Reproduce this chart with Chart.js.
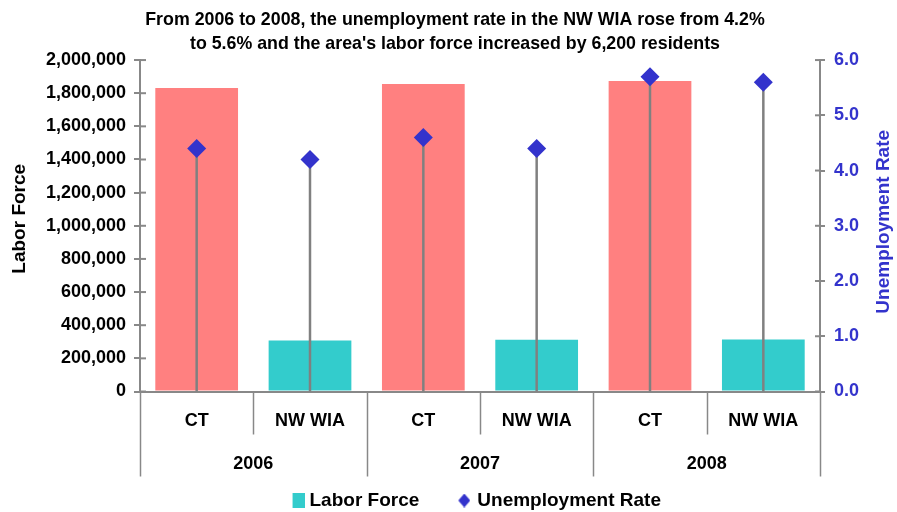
<!DOCTYPE html>
<html>
<head>
<meta charset="utf-8">
<script src="https://cdn.jsdelivr.net/npm/chart.js@4"></script>
<style>
  html, body { margin: 0; padding: 0; background: #fff; }
  #wrap { width: 897px; height: 512px; }
</style>
</head>
<body>
<div id="wrap"><canvas id="c" width="897" height="512"></canvas></div>
<script>
const areas = ['CT', 'NW WIA', 'CT', 'NW WIA', 'CT', 'NW WIA'];
const years = ['2006', '2007', '2008'];
const laborForce = [1831000, 308000, 1855000, 312000, 1873000, 314200];
const unemploymentRate = [4.4, 4.2, 4.6, 4.4, 5.7, 5.6];
const leftTicks = [0, 200000, 400000, 600000, 800000, 1000000, 1200000, 1400000, 1600000, 1800000, 2000000];
const rightTicks = [0, 1, 2, 3, 4, 5, 6];

const CT_COLOR = '#FF8080';
const WIA_COLOR = '#33CCCC';
const RATE_COLOR = '#3333CC';
const AXIS_COLOR = '#888888';
const FONT = 'Liberation Sans, Arial, Helvetica, sans-serif';

const barColors = areas.map(a => a === 'CT' ? CT_COLOR : WIA_COLOR);

// legend symbols: drawn at the right-hand side of a wider transparent image
function makeSquare() {
  const c = document.createElement('canvas');
  c.width = 51; c.height = 15;
  const g = c.getContext('2d');
  g.fillStyle = WIA_COLOR; g.fillRect(39, 0, 12, 15);
  return c;
}
function makeDiamond() {
  const c = document.createElement('canvas');
  c.width = 47; c.height = 14;
  const g = c.getContext('2d');
  g.fillStyle = RATE_COLOR;
  g.beginPath(); g.moveTo(41, 0); g.lineTo(47, 7); g.lineTo(41, 14); g.lineTo(35, 7); g.closePath(); g.fill();
  return c;
}
const squareImg = makeSquare();
const diamondImg = makeDiamond();

const shiftBlocks = {
  id: 'shiftBlocks',
  afterLayout(chart) {
    chart.legend.left += 22;
    chart.legend.top += 8;
    chart.titleBlock.left += 13;
  }
};

const dropLines = {
  id: 'dropLines',
  beforeDatasetDraw(chart, args) {
    if (args.index !== 1) return;
    const meta = chart.getDatasetMeta(1);
    const bottom = chart.chartArea.bottom;
    const ctx = chart.ctx;
    ctx.save();
    ctx.strokeStyle = '#808080';
    ctx.lineWidth = 2.5;
    meta.data.forEach(pt => {
      ctx.beginPath();
      ctx.moveTo(pt.x, pt.y);
      ctx.lineTo(pt.x, bottom);
      ctx.stroke();
    });
    ctx.restore();
  }
};

const separators = {
  id: 'separators',
  afterDraw(chart) {
    const xs = chart.scales.x;
    const x2 = chart.scales.x2;
    const ys = chart.scales.y;
    const y1 = chart.scales.y1;
    const ctx = chart.ctx;
    const n = areas.length;
    const w = (xs.right - xs.left) / n;
    ctx.save();
    ctx.strokeStyle = AXIS_COLOR;
    ctx.lineWidth = 1.5;
    for (let i = 0; i <= n; i++) {
      const xp = Math.round(xs.left + i * w) + 0.5;
      const yEnd = (i % 2 === 0) ? x2.bottom : xs.bottom;
      ctx.beginPath();
      ctx.moveTo(xp, xs.top);
      ctx.lineTo(xp, yEnd);
      ctx.stroke();
    }
    // inner halves of the crossing tick marks
    ctx.lineWidth = 2;
    ys.ticks.forEach(t => {
      const yp = ys.getPixelForValue(t.value);
      ctx.beginPath(); ctx.moveTo(ys.right, yp); ctx.lineTo(ys.right + 6, yp); ctx.stroke();
    });
    y1.ticks.forEach(t => {
      const yp = y1.getPixelForValue(t.value);
      ctx.beginPath(); ctx.moveTo(y1.left - 5, yp); ctx.lineTo(y1.left, yp); ctx.stroke();
    });
    const ca = chart.chartArea;
    const midY = (ca.top + ca.bottom) / 2;
    ctx.font = 'bold 19px ' + FONT;
    ctx.textAlign = 'center';
    ctx.textBaseline = 'middle';
    // left axis title
    ctx.save();
    ctx.translate(20, midY - 7);
    ctx.rotate(-Math.PI / 2);
    ctx.fillStyle = '#000';
    ctx.fillText('Labor Force', 0, 0);
    ctx.restore();
    // right axis title (reads bottom to top)
    ctx.save();
    ctx.translate(chart.width - 13, midY - 4);
    ctx.rotate(-Math.PI / 2);
    ctx.fillStyle = RATE_COLOR;
    ctx.fillText('Unemployment Rate', 0, 0);
    ctx.restore();
    ctx.restore();
  }
};

new Chart(document.getElementById('c'), {
  data: {
    labels: areas,
    datasets: [
      {
        type: 'bar',
        label: 'Labor Force',
        data: laborForce,
        backgroundColor: barColors,
        borderWidth: 0,
        categoryPercentage: 1.0,
        barPercentage: 0.73,
        xAxisID: 'x',
        yAxisID: 'y',
        order: 2
      },
      {
        type: 'line',
        label: 'Unemployment Rate',
        data: unemploymentRate,
        showLine: false,
        pointStyle: 'rectRot',
        pointRadius: 9.5,
        pointHoverRadius: 9.5,
        pointBackgroundColor: RATE_COLOR,
        pointBorderWidth: 0,
        borderColor: RATE_COLOR,
        xAxisID: 'x',
        yAxisID: 'y1',
        order: 1
      }
    ]
  },
  options: {
    responsive: false,
    animation: false,
    events: [],
    layout: { padding: 0 },
    plugins: {
      title: {
        display: true,
        text: ['From 2006 to 2008, the unemployment rate in the NW WIA rose from 4.2%',
               "to 5.6% and the area's labor force increased by 6,200 residents"],
        color: '#000',
        font: { family: FONT, size: 17.8, weight: 'bold', lineHeight: 1.35 },
        padding: { top: 8, bottom: 4 }
      },
      legend: {
        position: 'bottom',
        labels: {
          usePointStyle: true,
          pointStyleWidth: 42,
          color: '#000',
          font: { family: FONT, size: 19, weight: 'bold' },
          padding: 6.5,
          generateLabels() {
            return [
              { text: 'Labor Force', pointStyle: squareImg, fillStyle: WIA_COLOR, strokeStyle: WIA_COLOR, lineWidth: 0, datasetIndex: 0, hidden: false },
              { text: 'Unemployment Rate', pointStyle: diamondImg, fillStyle: RATE_COLOR, strokeStyle: RATE_COLOR, lineWidth: 0, datasetIndex: 1, hidden: false }
            ];
          }
        }
      },
      tooltip: { enabled: false }
    },
    scales: {
      x: {
        type: 'category',
        position: 'bottom',
        offset: true,
        grid: { display: false, drawTicks: false },
        border: { display: true, color: AXIS_COLOR, width: 2 },
        ticks: { color: '#000', font: { family: FONT, size: 18, weight: 'bold' }, padding: 19, maxRotation: 0, autoSkip: false },
        afterFit(s) { s.height = 43; }
      },
      x2: {
        type: 'category',
        position: 'bottom',
        labels: years,
        offset: true,
        grid: { display: false, drawTicks: false },
        border: { display: false },
        ticks: { color: '#000', font: { family: FONT, size: 18, weight: 'bold' }, padding: 19, maxRotation: 0, autoSkip: false },
        afterFit(s) { s.height = 42; }
      },
      y: {
        type: 'linear',
        position: 'left',
        min: 0,
        max: 2000000,
        afterBuildTicks(s) { s.ticks = leftTicks.map(v => ({ value: v })); },
        grid: { display: true, drawOnChartArea: false, drawTicks: true, tickLength: 6, color: AXIS_COLOR, lineWidth: 2 },
        border: { display: true, color: AXIS_COLOR, width: 2 },
        ticks: {
          color: '#000',
          font: { family: FONT, size: 18, weight: 'bold' },
          padding: 8,
          callback: v => v.toLocaleString('en-US')
        },
        afterFit(s) { s.width = 140; }
      },
      y1: {
        type: 'linear',
        position: 'right',
        min: 0,
        max: 6,
        afterBuildTicks(s) { s.ticks = rightTicks.map(v => ({ value: v })); },
        grid: { display: true, drawOnChartArea: false, drawTicks: true, tickLength: 5, color: AXIS_COLOR, lineWidth: 2 },
        border: { display: true, color: AXIS_COLOR, width: 2 },
        ticks: {
          color: RATE_COLOR,
          font: { family: FONT, size: 18, weight: 'bold' },
          padding: 9,
          callback: v => Number(v).toFixed(1)
        },
        afterFit(s) { s.width = 77; }
      }
    }
  },
  plugins: [shiftBlocks, dropLines, separators]
});
</script>
</body>
</html>
